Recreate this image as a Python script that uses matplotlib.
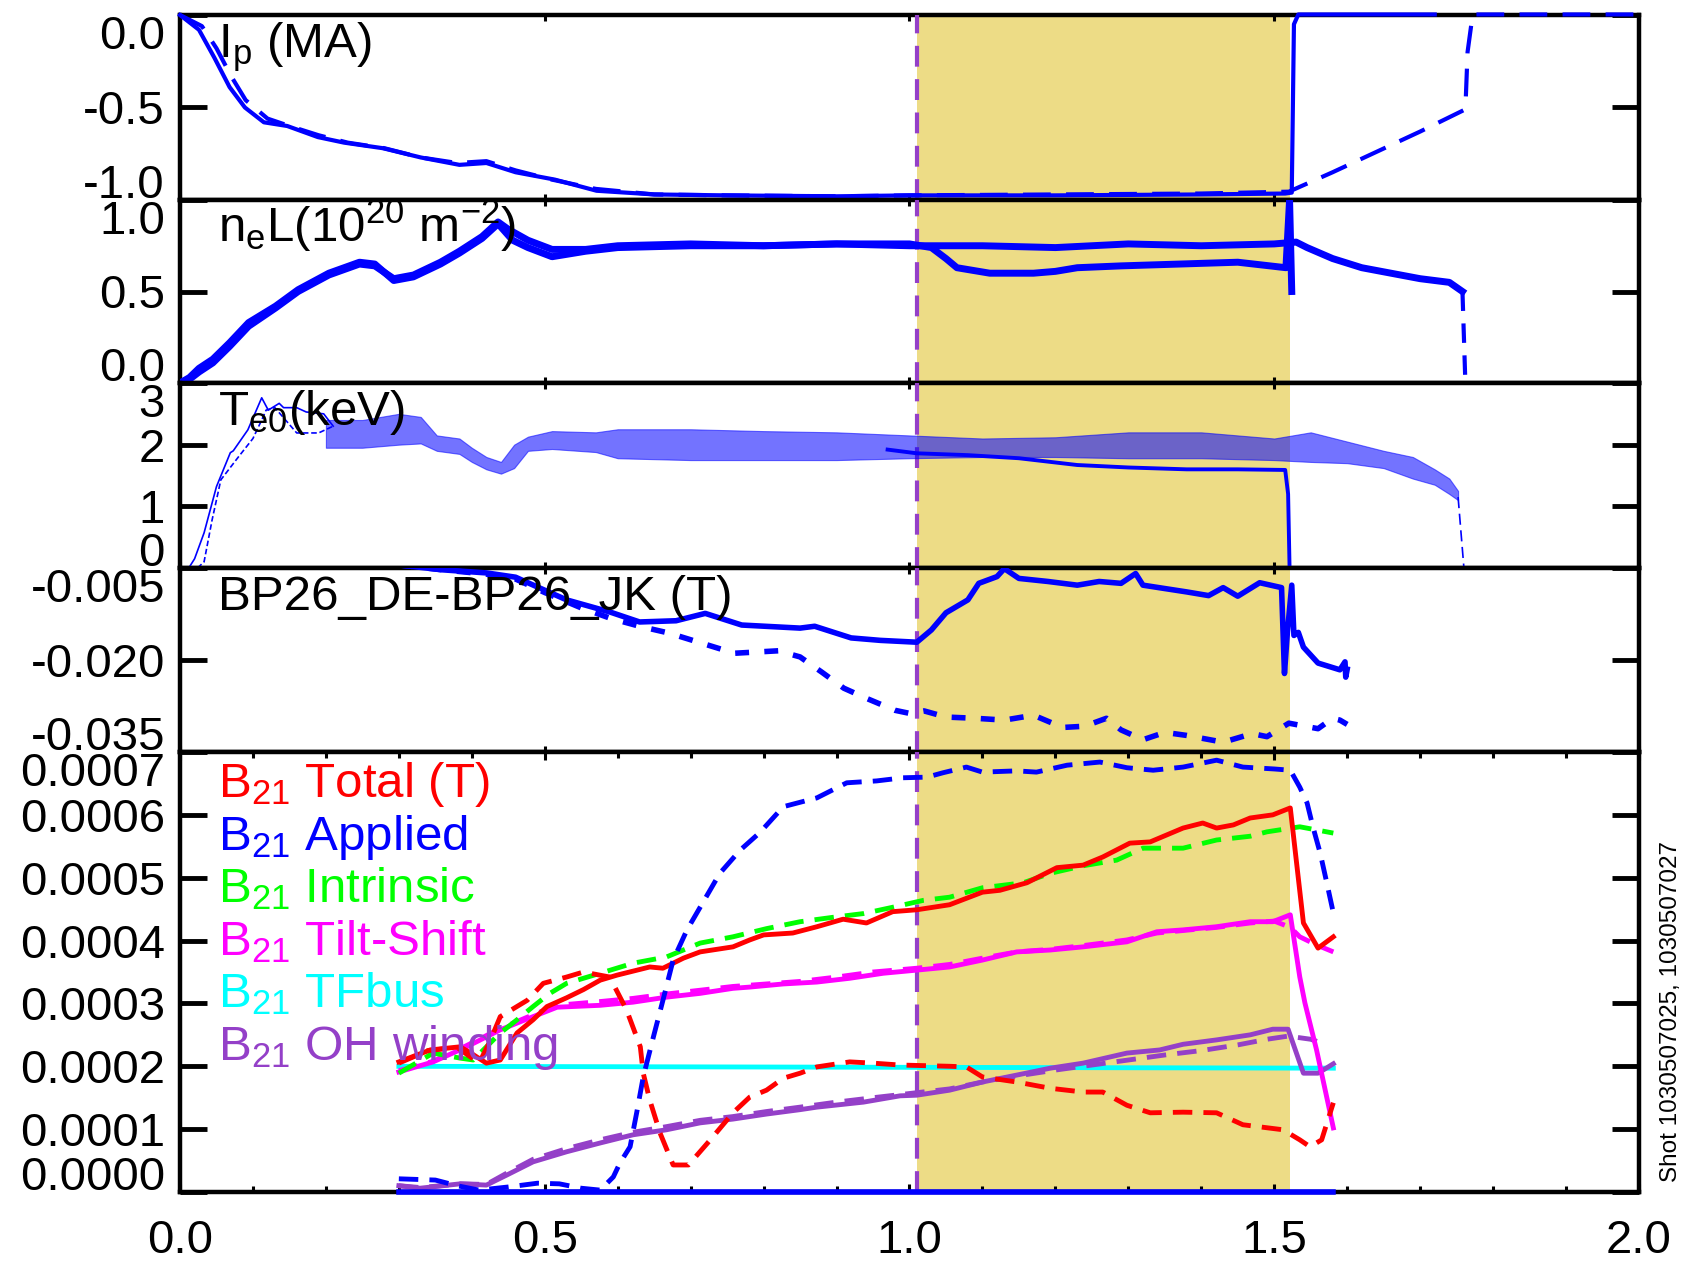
import matplotlib
matplotlib.use("Agg")
import matplotlib.pyplot as plt
from matplotlib.ticker import FixedLocator, MultipleLocator
import matplotlib.transforms as mtransforms

plt.rcParams['font.family'] = ['Liberation Sans', 'DejaVu Sans']
plt.rcParams['mathtext.fontset'] = 'custom'
plt.rcParams['mathtext.rm'] = 'Liberation Sans'
plt.rcParams['mathtext.it'] = 'Liberation Sans'
plt.rcParams['mathtext.default'] = 'regular'
plt.rcParams['axes.unicode_minus'] = False
plt.rcParams['lines.scale_dashes'] = False

# ---------------- data ----------------
# Plasma current (MA)
t_ip_a = [0, 0.026, 0.047, 0.068, 0.089, 0.115, 0.147, 0.189, 0.225, 0.278, 0.33, 0.383, 0.42,
          0.46, 0.514, 0.571, 0.65, 0.75, 0.9, 1.0, 1.2, 1.4, 1.515, 1.524, 1.527, 1.533, 1.6, 1.72]
ip_a = [0, -0.08, -0.23, -0.39, -0.50, -0.58, -0.60, -0.66, -0.69, -0.72, -0.77, -0.81, -0.80,
        -0.85, -0.89, -0.95, -0.97, -0.975, -0.98, -0.975, -0.975, -0.97, -0.965, -0.96, -0.05, 0.003, 0.003, 0.003]
t_ip_b = [0, 0.03, 0.05, 0.07, 0.09, 0.12, 0.15, 0.19, 0.23, 0.28, 0.33, 0.38, 0.42, 0.46, 0.51,
          0.57, 0.65, 0.75, 0.9, 1.0, 1.2, 1.4, 1.52, 1.58, 1.64, 1.70, 1.762, 1.765, 1.772, 1.85, 2.0]
ip_b = [0, -0.06, -0.18, -0.33, -0.46, -0.56, -0.60, -0.65, -0.69, -0.72, -0.77, -0.80, -0.79, -0.84, -0.89,
        -0.94, -0.97, -0.975, -0.98, -0.975, -0.97, -0.965, -0.955, -0.85, -0.74, -0.63, -0.51, -0.2, 0.003, 0.003, 0.003]

# Line-integrated density (1e20 m^-2)
t_ne_a = [0, 0.013, 0.026, 0.045, 0.068, 0.094, 0.131, 0.162, 0.204, 0.246, 0.267, 0.293, 0.32, 0.357,
          0.383, 0.414, 0.436, 0.456, 0.477, 0.51, 0.556, 0.6, 0.7, 0.8, 0.9, 1.0, 1.03, 1.05, 1.065,
          1.11, 1.17, 1.2, 1.23, 1.29, 1.37, 1.45, 1.516, 1.521, 1.524]
ne_a = [0.0, 0.03, 0.08, 0.13, 0.22, 0.33, 0.42, 0.51, 0.60, 0.66, 0.65, 0.56, 0.58, 0.65,
        0.71, 0.79, 0.87, 0.78, 0.74, 0.69, 0.72, 0.74, 0.75, 0.75, 0.76, 0.76, 0.74, 0.68, 0.63,
        0.60, 0.60, 0.61, 0.63, 0.64, 0.65, 0.66, 0.63, 1.0, 0.5]
t_ne_b = [0, 0.013, 0.026, 0.045, 0.068, 0.094, 0.131, 0.162, 0.204, 0.246, 0.267, 0.293, 0.32, 0.357,
          0.383, 0.414, 0.436, 0.45, 0.477, 0.51, 0.556, 0.6, 0.7, 0.8, 0.9, 1.0, 1.1, 1.2, 1.3, 1.4,
          1.5, 1.53, 1.545, 1.58, 1.62, 1.66, 1.70, 1.74, 1.758]
ne_b = [0.0, 0.02, 0.06, 0.11, 0.20, 0.31, 0.41, 0.50, 0.59, 0.65, 0.64, 0.57, 0.59, 0.66,
        0.72, 0.80, 0.88, 0.84, 0.78, 0.73, 0.73, 0.75, 0.76, 0.75, 0.76, 0.75, 0.75, 0.74, 0.76, 0.75,
        0.76, 0.77, 0.74, 0.68, 0.63, 0.60, 0.57, 0.55, 0.50]
t_ne_b_end = [1.758, 1.762]
ne_b_end = [0.50, 0.0]

# Central electron temperature (keV)
t_te_a_rise = [0.012, 0.02, 0.033, 0.05, 0.069, 0.073, 0.093, 0.112, 0.121, 0.136, 0.142, 0.16, 0.173, 0.197, 0.21]
te_a_rise = [0.0, 0.15, 0.57, 1.32, 1.87, 1.9, 2.24, 2.76, 2.56, 2.67, 2.6, 2.6, 2.53, 2.5, 2.3]
t_te_b_rise = [0.024, 0.033, 0.044, 0.056, 0.08, 0.1, 0.112, 0.118, 0.13, 0.16, 0.19, 0.21]
te_b_rise = [0.0, 0.1, 0.78, 1.43, 1.8, 2.1, 2.4, 2.56, 2.6, 2.19, 2.19, 2.3]
# sawtooth envelope of the flat-top temperature
t_te_band = [0.20, 0.25, 0.30, 0.33, 0.352, 0.383, 0.40, 0.42, 0.44, 0.458, 0.477, 0.51, 0.57, 0.6,
             0.7, 0.8, 0.9, 1.0, 1.1, 1.2, 1.3, 1.4, 1.5, 1.55, 1.6, 1.65, 1.69, 1.72, 1.74, 1.752]
te_band_hi = [2.4, 2.4, 2.5, 2.45, 2.15, 2.1, 1.95, 1.8, 1.72, 2.0, 2.13, 2.22, 2.2, 2.25,
              2.25, 2.22, 2.2, 2.15, 2.1, 2.12, 2.2, 2.2, 2.1, 2.2, 2.05, 1.9, 1.8, 1.6, 1.45, 1.25]
te_band_lo = [1.95, 1.95, 2.0, 2.02, 1.9, 1.85, 1.72, 1.6, 1.53, 1.62, 1.9, 1.93, 1.88, 1.78,
              1.75, 1.75, 1.75, 1.78, 1.8, 1.8, 1.78, 1.78, 1.75, 1.72, 1.7, 1.62, 1.45, 1.35, 1.2, 1.1]
t_te_a_flat = [0.97, 1.01, 1.08, 1.15, 1.23, 1.30, 1.38, 1.45, 1.515, 1.519, 1.521]
te_a_flat = [1.92, 1.86, 1.83, 1.78, 1.67, 1.63, 1.60, 1.60, 1.59, 1.2, 0.0]
t_te_b_end = [1.752, 1.76]
te_b_end = [1.15, 0.0]

# Differential poloidal field pickup (T)
t_bp_a = [0.30, 0.36, 0.42, 0.46, 0.49, 0.53, 0.59, 0.63, 0.68, 0.72, 0.77, 0.85, 0.87, 0.92, 0.96,
          1.01, 1.03, 1.05, 1.08, 1.095, 1.12, 1.13, 1.15, 1.19, 1.23, 1.26, 1.29, 1.31, 1.32, 1.38,
          1.41, 1.43, 1.45, 1.48, 1.51, 1.514, 1.518, 1.524, 1.527, 1.533, 1.54, 1.56, 1.59, 1.597,
          1.598, 1.60]
bp_a = [-0.0045, -0.0053, -0.0058, -0.0065, -0.0081, -0.0102, -0.0122, -0.0138, -0.0136, -0.0124,
        -0.0143, -0.0148, -0.0145, -0.0164, -0.0168, -0.0171, -0.0151, -0.0123, -0.0102, -0.0075,
        -0.0064, -0.0051, -0.0067, -0.0072, -0.0078, -0.0072, -0.0075, -0.0059, -0.0078, -0.0089,
        -0.0095, -0.0082, -0.0096, -0.0074, -0.0082, -0.0222, -0.0155, -0.0078, -0.0160, -0.0155,
        -0.0179, -0.0205, -0.0216, -0.0203, -0.0228, -0.0215]
t_bp_b = [0.30, 0.36, 0.42, 0.46, 0.50, 0.55, 0.59, 0.63, 0.67, 0.70, 0.76, 0.82, 0.85, 0.88, 0.91,
          0.94, 0.98, 1.0, 1.02, 1.05, 1.09, 1.13, 1.17, 1.21, 1.24, 1.27, 1.29, 1.32, 1.35, 1.38,
          1.43, 1.47, 1.49, 1.52, 1.56, 1.58, 1.59, 1.60]
bp_b = [-0.0045, -0.0053, -0.0060, -0.0068, -0.0090, -0.0115, -0.0132, -0.0145, -0.0156, -0.0167,
        -0.0189, -0.0185, -0.0195, -0.0220, -0.0246, -0.0262, -0.0282, -0.0287, -0.0283, -0.0293,
        -0.0295, -0.0298, -0.0290, -0.0310, -0.0308, -0.0295, -0.0314, -0.0330, -0.0318, -0.0323,
        -0.0334, -0.0320, -0.0325, -0.0303, -0.0312, -0.0295, -0.0298, -0.0305]

# n=1 (2,1) error-field components, in units of 1e-4 T
t_tot_a = [0.30, 0.343, 0.384, 0.40, 0.42, 0.439, 0.462, 0.484, 0.503, 0.53, 0.553, 0.576, 0.599, 0.644,
           0.662, 0.69, 0.713, 0.758, 0.781, 0.80, 0.84, 0.873, 0.909, 0.941, 0.977, 1.01, 1.055, 1.10,
           1.124, 1.161, 1.202, 1.238, 1.265, 1.302, 1.33, 1.375, 1.402, 1.421, 1.444, 1.467, 1.498,
           1.522, 1.54, 1.56, 1.581]
tot_a = [2.07, 2.26, 2.31, 2.20, 2.05, 2.10, 2.53, 2.74, 2.95, 3.09, 3.22, 3.37, 3.45, 3.58,
         3.56, 3.72, 3.82, 3.90, 4.01, 4.09, 4.12, 4.22, 4.34, 4.28, 4.46, 4.49, 4.57, 4.77,
         4.80, 4.92, 5.16, 5.20, 5.33, 5.55, 5.57, 5.79, 5.87, 5.79, 5.84, 5.95, 6.00,
         6.11, 4.28, 3.88, 4.06]
t_tot_b = [0.30, 0.34, 0.38, 0.41, 0.425, 0.439, 0.476, 0.498, 0.53, 0.553, 0.589, 0.612, 0.631, 0.635,
           0.644, 0.658, 0.676, 0.697, 0.727, 0.758, 0.781, 0.804, 0.827, 0.85, 0.873, 0.918, 0.95,
           0.987, 1.055, 1.078, 1.10, 1.147, 1.193, 1.238, 1.265, 1.298, 1.33, 1.375, 1.421, 1.457,
           1.512, 1.535, 1.549, 1.565, 1.581]
tot_b = [2.05, 2.25, 2.30, 2.05, 2.40, 2.79, 3.05, 3.32, 3.42, 3.50, 3.42, 2.90, 2.31, 1.89,
         1.46, 0.94, 0.43, 0.43, 0.83, 1.26, 1.51, 1.62, 1.81, 1.89, 1.99, 2.07, 2.05,
         2.02, 2.00, 1.99, 1.83, 1.75, 1.65, 1.59, 1.59, 1.38, 1.26, 1.27, 1.26, 1.07,
         0.99, 0.83, 0.72, 0.83, 1.42]
t_app_a = [0.30, 1.581]
app_a = [0.0, 0.0]
t_app_b = [0.30, 0.35, 0.38, 0.41, 0.45, 0.49, 0.52, 0.55, 0.576, 0.594, 0.603, 0.617, 0.626, 0.635,
           0.649, 0.662, 0.676, 0.695, 0.713, 0.74, 0.768, 0.795, 0.827, 0.873, 0.914, 0.955, 0.991,
           1.024, 1.046, 1.078, 1.10, 1.147, 1.174, 1.216, 1.261, 1.298, 1.334, 1.375, 1.421, 1.457,
           1.50, 1.522, 1.535, 1.545, 1.553, 1.563, 1.572, 1.581]
app_b = [0.21, 0.19, 0.10, 0.03, 0.08, 0.14, 0.13, 0.06, 0.03, 0.24, 0.46, 0.72, 1.26, 1.83,
         2.47, 3.05, 3.69, 4.17, 4.53, 5.07, 5.44, 5.72, 6.13, 6.27, 6.51, 6.54, 6.59,
         6.60, 6.67, 6.76, 6.68, 6.70, 6.68, 6.79, 6.84, 6.75, 6.71, 6.76, 6.87, 6.76,
         6.73, 6.71, 6.44, 6.19, 5.81, 5.39, 4.92, 4.44]
t_int_b = [0.30, 0.347, 0.384, 0.402, 0.439, 0.462, 0.484, 0.507, 0.53, 0.576, 0.621, 0.667, 0.713,
           0.758, 0.804, 0.85, 0.895, 0.937, 0.977, 1.019, 1.055, 1.10, 1.156, 1.193, 1.238, 1.284,
           1.32, 1.375, 1.421, 1.467, 1.49, 1.535, 1.581]
int_b = [1.89, 2.21, 2.13, 2.10, 2.53, 2.74, 2.95, 3.16, 3.32, 3.48, 3.64, 3.74, 3.96,
         4.06, 4.19, 4.30, 4.37, 4.43, 4.53, 4.64, 4.69, 4.84, 4.92, 5.07, 5.19, 5.28,
         5.47, 5.47, 5.60, 5.66, 5.73, 5.81, 5.71]
t_ts_a = [0.30, 0.347, 0.393, 0.439, 0.484, 0.517, 0.576, 0.621, 0.667, 0.713, 0.758, 0.781, 0.827,
          0.873, 0.918, 0.964, 1.01, 1.055, 1.10, 1.147, 1.193, 1.238, 1.298, 1.339, 1.375, 1.421,
          1.467, 1.498, 1.522, 1.535, 1.542, 1.558, 1.581]
ts_a = [1.91, 2.07, 2.31, 2.58, 2.79, 2.94, 2.97, 3.02, 3.10, 3.16, 3.24, 3.26, 3.31,
        3.34, 3.40, 3.48, 3.53, 3.58, 3.69, 3.82, 3.85, 3.90, 3.98, 4.14, 4.17, 4.22,
        4.30, 4.30, 4.41, 3.42, 3.01, 2.26, 1.02]
t_ts_b = [0.30, 0.347, 0.393, 0.439, 0.484, 0.517, 0.576, 0.621, 0.667, 0.713, 0.758, 0.804, 0.85,
          0.90, 0.95, 1.01, 1.055, 1.10, 1.147, 1.193, 1.238, 1.298, 1.339, 1.375, 1.421, 1.467,
          1.50, 1.522, 1.535, 1.558, 1.581]
ts_b = [1.93, 2.08, 2.33, 2.60, 2.82, 2.97, 3.03, 3.08, 3.15, 3.21, 3.27, 3.31, 3.35,
        3.42, 3.50, 3.56, 3.62, 3.72, 3.82, 3.86, 3.92, 4.01, 4.12, 4.16, 4.21, 4.28,
        4.31, 4.21, 4.06, 3.93, 3.82]
t_tf = [0.30, 1.581]
tf = [2.0, 1.97]
t_oh_a = [0.30, 0.329, 0.384, 0.42, 0.448, 0.484, 0.53, 0.576, 0.621, 0.667, 0.713, 0.758, 0.804,
          0.85, 0.873, 0.937, 0.987, 1.01, 1.055, 1.10, 1.147, 1.193, 1.238, 1.298, 1.343, 1.375,
          1.421, 1.467, 1.498, 1.519, 1.54, 1.56, 1.581]
oh_a = [0.10, 0.06, 0.13, 0.11, 0.27, 0.48, 0.64, 0.78, 0.91, 0.99, 1.10, 1.16, 1.24,
        1.31, 1.35, 1.43, 1.53, 1.54, 1.62, 1.75, 1.86, 1.97, 2.05, 2.21, 2.26, 2.35,
        2.42, 2.50, 2.59, 2.59, 1.89, 1.89, 2.04]
t_oh_b = [0.30, 0.33, 0.384, 0.42, 0.448, 0.484, 0.53, 0.576, 0.621, 0.667, 0.713, 0.758, 0.804,
          0.85, 0.90, 0.95, 1.01, 1.055, 1.10, 1.15, 1.20, 1.25, 1.30, 1.35, 1.40, 1.45, 1.49,
          1.519, 1.55, 1.565]
oh_b = [0.10, 0.07, 0.13, 0.12, 0.30, 0.52, 0.69, 0.83, 0.95, 1.04, 1.14, 1.20, 1.28,
        1.35, 1.43, 1.50, 1.58, 1.64, 1.75, 1.85, 1.94, 2.02, 2.10, 2.18, 2.25, 2.34, 2.43,
        2.48, 2.43, 2.37]

legend_labels = ['Total (T)', 'Applied', 'Intrinsic', 'Tilt-Shift', 'TFbus', 'OH winding']

# y-axis ticks and labels of each panel
ip_ticks, ip_labels = [-1.0, -0.5, 0.0], ['-1.0', '-0.5', '0.0']
ne_ticks, ne_labels = [0.0, 0.5, 1.0], ['0.0', '0.5', '1.0']
te_ticks, te_labels = [0, 1, 2, 3], ['0', '1', '2', '3']
bp_ticks, bp_labels = [-0.035, -0.020, -0.005], ['-0.035', '-0.020', '-0.005']
b21_ticks = [0.0, 0.0001, 0.0002, 0.0003, 0.0004, 0.0005, 0.0006, 0.0007]
b21_labels = ['0.0000', '0.0001', '0.0002', '0.0003', '0.0004', '0.0005', '0.0006', '0.0007']
x_ticks, x_labels = [0.0, 0.5, 1.0, 1.5, 2.0], ['0.0', '0.5', '1.0', '1.5', '2.0']

window = (1.01, 1.522)   # highlighted time window (s)
t_mark = 1.01

# ---------------- styling ----------------
W, H = 1683, 1262
PT = 0.72  # points per pixel at 100 dpi
FS = 34
FS_LAB = 35.5
BLUE, RED, GREEN, MAG, CYAN, PURP = '#0000FF', '#FF0000', '#00FF00', '#FF00FF', '#00FFFF', '#9440C8'
SHADE = '#EDDC86'

fig = plt.figure(figsize=(W / 100, H / 100), dpi=100)
x0, x1 = 180, 1639
bounds = [(15, 200), (200, 383), (383, 568), (568, 752), (752, 1192)]
axes = []
for top, bot in bounds:
    ax = fig.add_axes([x0 / W, 1 - bot / H, (x1 - x0) / W, (bot - top) / H])
    axes.append(ax)
ax_ip, ax_ne, ax_te, ax_bp, ax_b = axes

ylims = [(-1.0, 0.0), (0.0, 1.0), (0.0, 3.0), (-0.035, -0.005), (0.0, 0.0007)]
yticks = [ip_ticks, ne_ticks, te_ticks, bp_ticks, b21_ticks]
ylabels = [ip_labels, ne_labels, te_labels, bp_labels, b21_labels]

for i, ax in enumerate(axes):
    ax.set_xlim(0, 2.0)
    ax.set_ylim(*ylims[i])
    for s in ax.spines.values():
        s.set_linewidth(3.2)
    ax.yaxis.set_major_locator(FixedLocator(yticks[i]))
    ax.xaxis.set_major_locator(FixedLocator(x_ticks))
    ax.tick_params(axis='y', which='major', direction='in', left=True, right=True,
                   length=27 * PT, width=3.5, labelleft=False)
    ax.tick_params(axis='x', which='major', direction='in', top=True, bottom=True,
                   length=6 * PT, width=2.2, labelbottom=False)
    ax.axvspan(window[0], window[1], color=SHADE, lw=0, zorder=0)
    ax.axvline(t_mark, color=PURP, lw=3.0, dashes=(15, 9), zorder=2.6)
    # y tick labels, with the end labels pulled inside the panel
    tr = mtransforms.blended_transform_factory(ax.transAxes, ax.transData)
    n = len(yticks[i])
    for k, (v, lab) in enumerate(zip(yticks[i], ylabels[i])):
        if k == 0:
            dy = 2
        elif k == n - 1:
            dy = -34
        else:
            dy = -17
        off = mtransforms.ScaledTranslation(-15 / 100, dy / 100, fig.dpi_scale_trans)
        ax.text(0, v, lab, transform=tr + off, ha='right', va='baseline', fontsize=FS, clip_on=False)

ax_b.xaxis.set_minor_locator(MultipleLocator(0.1))
ax_b.tick_params(axis='x', which='both', direction='in', top=True, bottom=True,
                 length=8 * PT, width=2.2)
ax_b.tick_params(axis='x', which='minor', length=6 * PT, width=2.2)
trx = mtransforms.blended_transform_factory(ax_b.transData, ax_b.transAxes)
for v, lab in zip(x_ticks, x_labels):
    off = mtransforms.ScaledTranslation(0, -61 / 100, fig.dpi_scale_trans)
    ax_b.text(v, 0, lab, transform=trx + off, ha='center', va='baseline', fontsize=FS, clip_on=False)

def panel_label(ax, text):
    ax.annotate(text, xy=(0, 1), xycoords='axes fraction', xytext=(38 * PT, -42 * PT),
                textcoords='offset points', ha='left', va='baseline', fontsize=FS_LAB, zorder=6)

# ---- Ip ----
ax_ip.plot(t_ip_b, ip_b, color=BLUE, lw=3.0, dashes=(20, 11), zorder=3, clip_on=False)
ax_ip.plot(t_ip_a, ip_a, color=BLUE, lw=3.0, zorder=3, clip_on=False)
panel_label(ax_ip, r'I$_p$ (MA)')

# ---- neL ----
ax_ne.plot(t_ne_b, ne_b, color=BLUE, lw=5.0, zorder=3)
ax_ne.plot(t_ne_b_end, ne_b_end, color=BLUE, lw=3.0, dashes=(14, 9), zorder=3)
ax_ne.plot(t_ne_a, ne_a, color=BLUE, lw=5.0, zorder=3)
panel_label(ax_ne, r'n$_e$L(10$^{20}$ m$^{-2}$)')

# ---- Te0 ----
ax_te.fill_between(t_te_band, te_band_lo, te_band_hi, color=BLUE, alpha=0.55, lw=0.8, zorder=3)
ax_te.plot(t_te_a_rise, te_a_rise, color=BLUE, lw=1.2, zorder=3)
ax_te.plot(t_te_b_rise, te_b_rise, color=BLUE, lw=1.2, dashes=(4, 2), zorder=3)
ax_te.plot(t_te_a_flat, te_a_flat, color=BLUE, lw=2.8, zorder=3)
ax_te.plot(t_te_b_end, te_b_end, color=BLUE, lw=1.2, dashes=(8, 4), zorder=3)
panel_label(ax_te, r'T$_{e0}$(keV)')

# ---- BP26 difference ----
ax_bp.plot(t_bp_b, bp_b, color=BLUE, lw=4.0, dashes=(10, 11), zorder=3)
ax_bp.plot(t_bp_a, bp_a, color=BLUE, lw=4.0, zorder=3)
panel_label(ax_bp, 'BP26_DE-BP26_JK (T)')

# ---- B21 components ----
sc = 1e-4
dash5 = (14, 8)
ax_b.plot(t_tf, [v * sc for v in tf], color=CYAN, lw=3.5, zorder=3)
ax_b.plot(t_oh_b, [v * sc for v in oh_b], color=PURP, lw=3.5, dashes=dash5, zorder=3)
ax_b.plot(t_oh_a, [v * sc for v in oh_a], color=PURP, lw=3.5, zorder=3)
ax_b.plot(t_ts_b, [v * sc for v in ts_b], color=MAG, lw=3.5, dashes=dash5, zorder=3)
ax_b.plot(t_ts_a, [v * sc for v in ts_a], color=MAG, lw=3.5, zorder=3)
ax_b.plot(t_int_b, [v * sc for v in int_b], color=GREEN, lw=3.5, dashes=dash5, zorder=3)
ax_b.plot(t_tot_b, [v * sc for v in tot_b], color=RED, lw=3.5, dashes=dash5, zorder=3)
ax_b.plot(t_tot_a, [v * sc for v in tot_a], color=RED, lw=3.5, zorder=3)
ax_b.plot(t_app_b, [v * sc for v in app_b], color=BLUE, lw=3.5, dashes=dash5, zorder=3)
ax_b.plot(t_app_a, [v * sc for v in app_a], color=BLUE, lw=4.0, zorder=3, clip_on=False)

legend_colors = [RED, BLUE, GREEN, MAG, CYAN, PURP]
for k, (lab, col) in enumerate(zip(legend_labels, legend_colors)):
    ax_b.annotate(r'B$_{21}$ ' + lab, xy=(0, 1), xycoords='axes fraction',
                  xytext=(38 * PT, -(45 + 52.6 * k) * PT), textcoords='offset points',
                  ha='left', va='baseline', fontsize=FS_LAB, color=col, zorder=6)

fig.text(1671.5 / W, 1 - 1012 / H, 'Shot 1030507025, 1030507027', rotation=90,
         ha='center', va='center', fontsize=17.5)

fig.savefig('out.png', dpi=100)
